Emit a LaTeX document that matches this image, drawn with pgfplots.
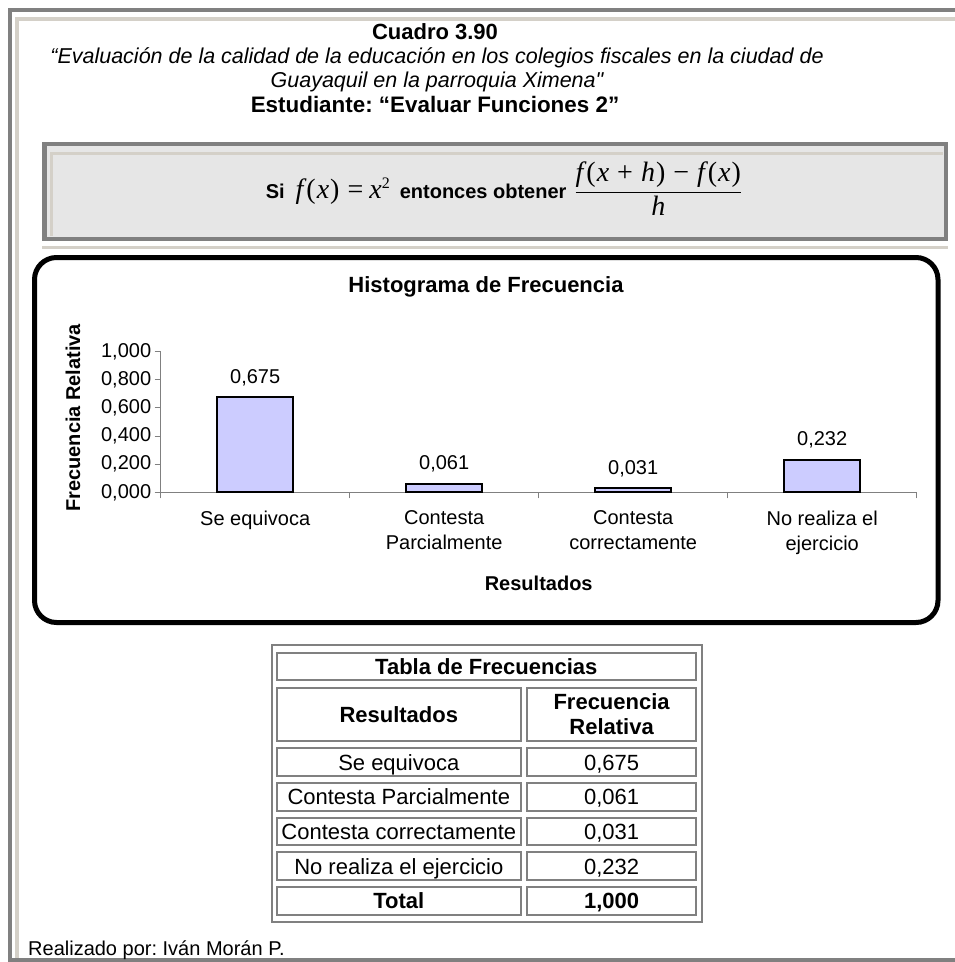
\documentclass[border=0pt]{standalone}
\usepackage{fontspec}
\setmainfont{Liberation Sans}
\newfontfamily\tms{Liberation Serif}
\newfontfamily\rawsans{Liberation Sans}[Ligatures=TeXOff]
\usepackage{pgfplots}
\pgfplotsset{compat=1.18}
\definecolor{frgray}{HTML}{808080}
\definecolor{beige}{HTML}{D4D0C8}
\definecolor{barfill}{HTML}{CCCCFF}
\definecolor{boxfill}{HTML}{E6E6E6}
\newcommand{\fs}[2]{\fontsize{#1}{#2}\selectfont}
\newcommand{\mi}[1]{{\tms\itshape #1}}
\newcommand{\mr}[1]{{\tms #1}}
\newcommand{\cellrow}[5]{%
  \draw[cell] (276.7,#1) rectangle (521,#2);
  \draw[cell] (527.3,#1) rectangle (696,#2);
  \node[anchor=base, font=#5\fs{22}{26}] at (398.8,{(#1+#2)/2+8}) {#3};
  \node[anchor=base, font=#5\fs{22}{26}] at (611.6,{(#1+#2)/2+8}) {#4};
}
\frenchspacing

\begin{document}
\begin{tikzpicture}[x=1pt,y=-1pt]
\useasboundingbox (0,0) rectangle (955,962);
\fill[white] (0,0) rectangle (955,962);

% page frame
\draw[frgray, line width=4] (10,975) -- (10,10) -- (975,10);
\draw[beige, line width=4] (17,958) -- (17,18.5) -- (975,18.5);
\draw[frgray, line width=4] (8,960) -- (975,960);

% header
\tikzset{hd/.style={anchor=base, inner sep=0}}
\node[hd, font=\bfseries\fs{22}{26}] at (435,39) {Cuadro 3.90};
\node[hd, font=\itshape\fs{21.5}{26}] at (437,63) {“Evaluación de la calidad de la educación en los colegios fiscales en la ciudad de};
\node[hd, font=\itshape\fs{21.5}{26}] at (437,87) {Guayaquil en la parroquia Ximena{\rawsans"}};
\node[hd, font=\bfseries\fs{22.4}{26}] at (435,112) {Estudiante: “Evaluar Funciones 2”};

% formula box
\fill[boxfill] (44,144) rectangle (946,239);
\draw[beige, line width=3] (51,236) -- (51,153) -- (943,153);
\draw[frgray, line width=4.5] (44.5,144) rectangle (946,239);
\draw[beige, line width=3.5] (42,247.5) -- (948,247.5);
\node[anchor=base, font=\fs{28}{30}, inner sep=0] at (504,198)
  {\textbf{\fs{20}{24}Si}\hspace{11pt}\mi{f}\kern3pt\mr{(}\kern1pt\mi{x}\kern1pt\mr{)}\hspace{8pt}\mr{=}\hspace{6pt}\mi{x}\raisebox{10pt}{\fs{16}{16}\mr{2}}\hspace{10pt}{\bfseries\fs{20}{24}entonces obtener}\hspace{8pt}$\displaystyle\frac{\mbox{\mi{f}\kern3pt\mr{(}\kern1pt\mi{x}\kern8pt\mr{+}\kern8pt\mi{h}\kern1pt\mr{)}\kern8pt\mr{−}\kern8pt\mi{f}\kern3pt\mr{(}\kern1pt\mi{x}\kern1pt\mr{)}}}{\mbox{\mi{h}}}$};

% chart frame
\draw[black, line width=5, rounded corners=22] (34.5,257.5) rectangle (938,622.5);
\node[anchor=base, font=\bfseries\fs{22}{26}] at (486,292) {Histograma de Frecuencia};

\coordinate (O) at (160.7,492.3);
\begin{axis}[at={(O)}, anchor=south west, scale only axis,
  width=756pt, height=140.6pt,
  xmin=0, xmax=4, ymin=0, ymax=1, clip=false,
  axis lines*=left,
  axis line style={frgray, line width=1.2},
  tick style={frgray, line width=1}, tick align=outside, major tick length=6pt,
  ytick={0,0.2,0.4,0.6,0.8,1},
  yticklabel style={font=\fs{20}{24}, /pgf/number format/.cd, fixed, fixed zerofill, precision=3, use comma, assume math mode=true},
  xtick={0,1,2,3,4}, xticklabels={},
  extra x ticks={0.5,1.5,2.5,3.5},
  extra x tick labels={Se equivoca, {Contesta\\Parcialmente}, {Contesta\\correctamente}, {No realiza el\\ejercicio}},
  extra x tick style={tick style={draw=none}},
  xticklabel style={font=\fs{20}{25}, align=center, yshift=-9pt},
  ylabel={Frecuencia Relativa}, xlabel={Resultados},
  every axis y label/.style={at={(axis description cs:-0.116,0.53)}, rotate=90, anchor=center, font=\bfseries\fs{20}{24}},
  every axis x label/.style={at={(axis description cs:0.5,-0.645)}, anchor=center, font=\bfseries\fs{20}{24}},
  ybar, bar width=75.6pt,
  nodes near coords,
  nodes near coords style={font=\fs{20}{24}, yshift=7pt, /pgf/number format/.cd, fixed, fixed zerofill, precision=3, use comma, assume math mode=true},
]
\addplot[fill=barfill, draw=black, line width=2] coordinates {(0.5,0.675) (1.5,0.061) (2.5,0.031) (3.5,0.232)};
\end{axis}

% frequency table
\draw[frgray, line width=2] (272,645) rectangle (701.7,921.7);
\tikzset{cell/.style={draw=frgray, line width=2.2, fill=white}}
\draw[cell] (276.7,652.7) rectangle (696,680);
\node[anchor=base, font=\bfseries\fs{22}{26}] at (486.3,674) {Tabla de Frecuencias};
\draw[cell] (276.7,687.7) rectangle (521,740.7);
\draw[cell] (527.3,687.7) rectangle (696,740.7);
\node[anchor=base, font=\bfseries\fs{22}{26}] at (398.8,722) {Resultados};
\node[anchor=center, align=center, font=\bfseries\fs{22}{25}] at (611.6,714) {Frecuencia\\Relativa};
\cellrow{748}{776}{Se equivoca}{0,675}{}
\cellrow{782.7}{810.7}{Contesta Parcialmente}{0,061}{}
\cellrow{817.7}{845}{Contesta correctamente}{0,031}{}
\cellrow{852}{880}{No realiza el ejercicio}{0,232}{}
\cellrow{886.7}{915}{Total}{1,000}{\bfseries}

\node[anchor=base west, font=\fs{20}{24}, inner sep=0] at (28,955) {Realizado por: Iván Morán P.};
\end{tikzpicture}
\end{document}
